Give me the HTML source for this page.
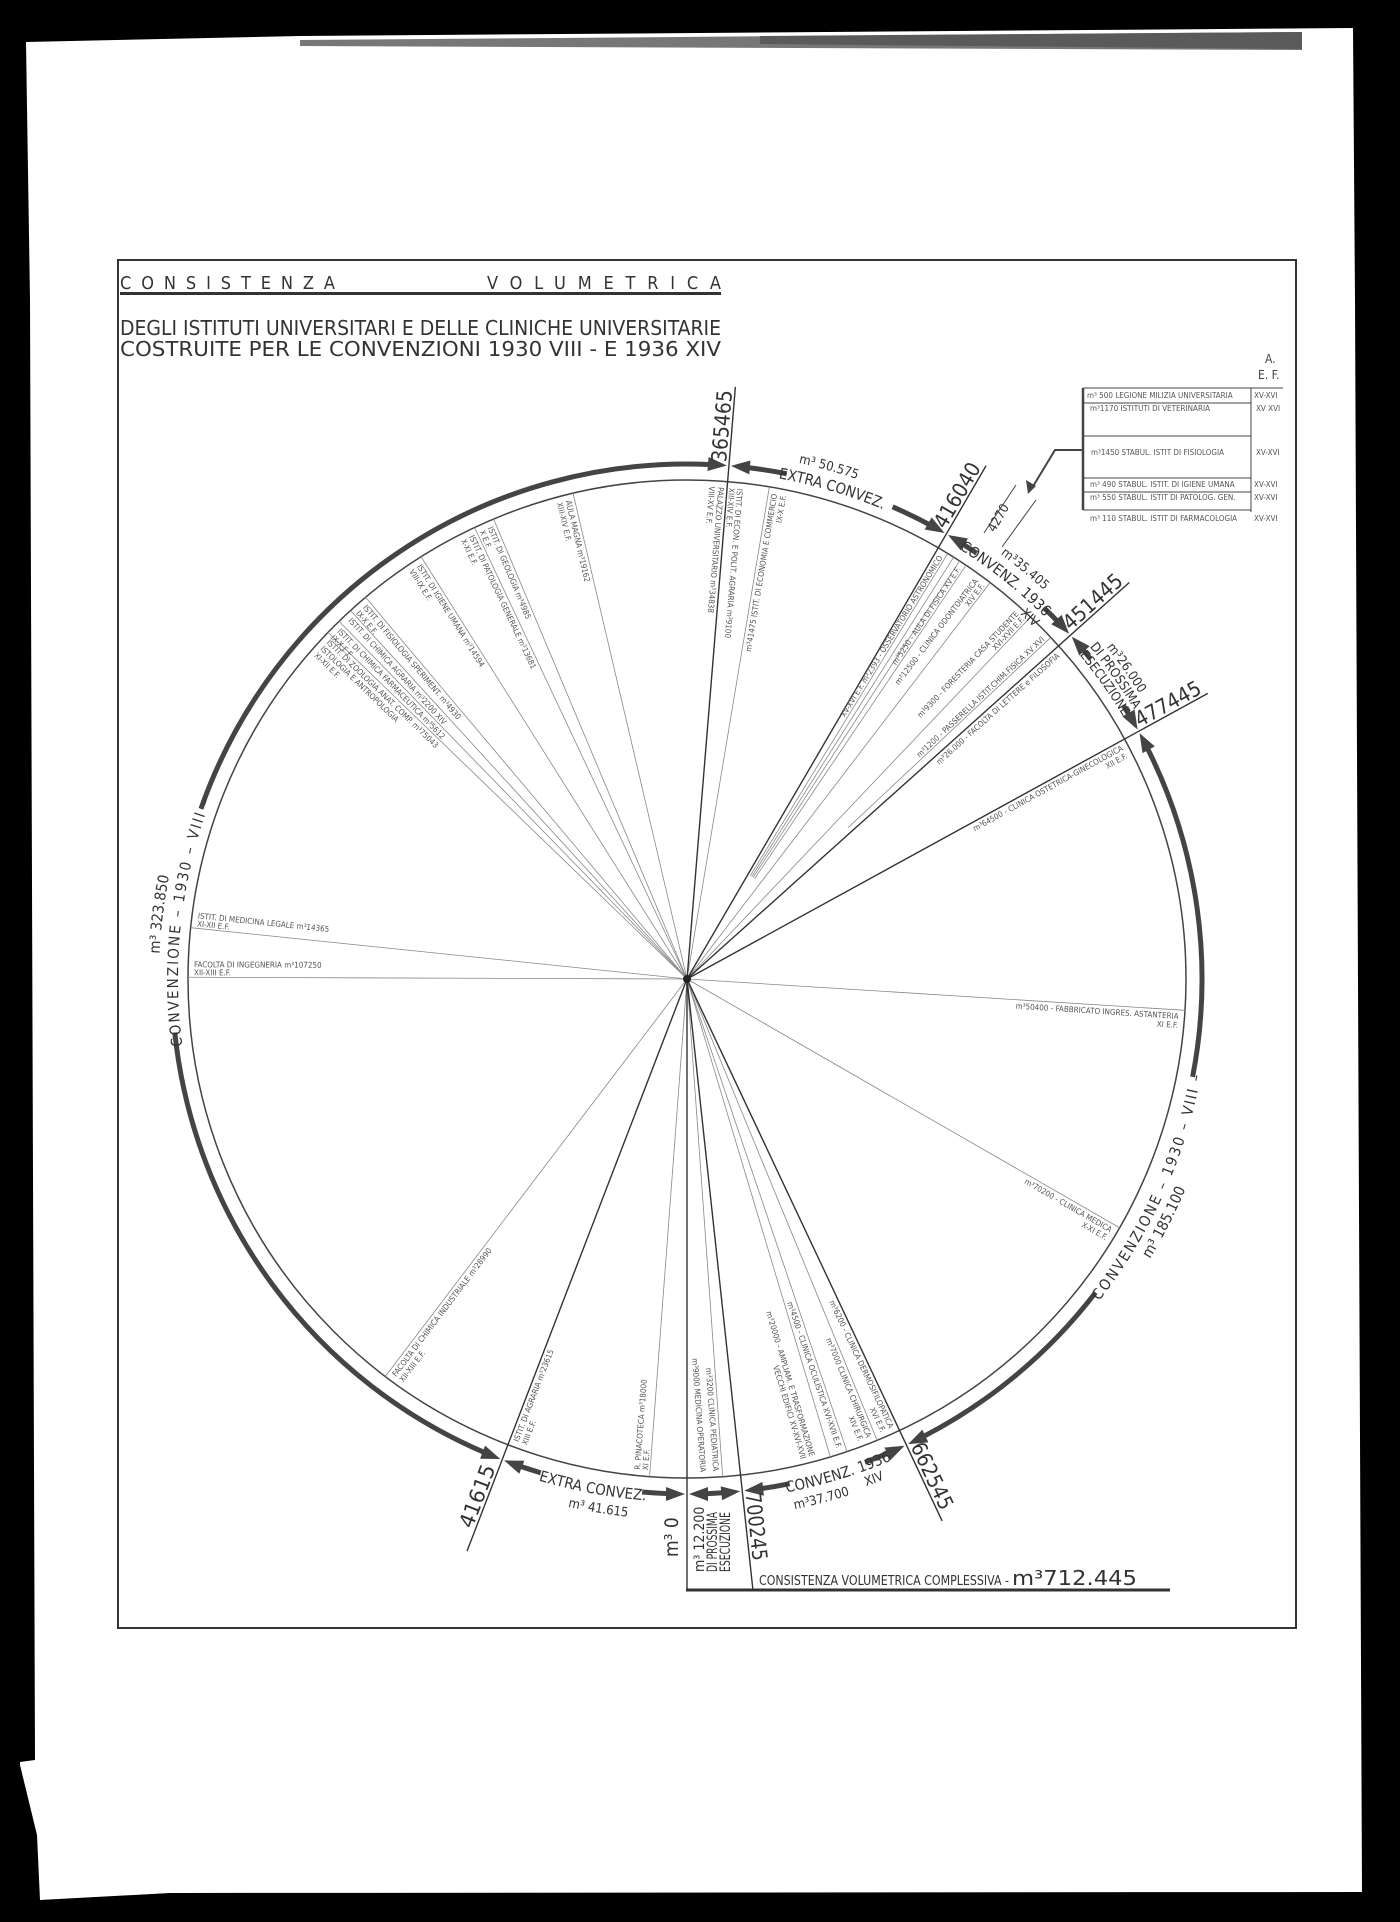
<!DOCTYPE html>
<html><head><meta charset="utf-8"><style>
html,body{margin:0;padding:0;background:#000;}
svg{display:block;}
text{font-family:"DejaVu Sans Condensed","Liberation Sans",sans-serif;}
.t{font-size:8px;fill:#555;}
.n{font-size:21px;fill:#333;}
.a{font-size:15px;fill:#333;}
.s{font-size:13px;fill:#333;}
</style></head><body>
<svg width="1400" height="1922" viewBox="0 0 1400 1922" xmlns="http://www.w3.org/2000/svg">
<defs>
<path id="cw509" d="M 1196 979 A 509 509 0 0 1 178 979"/>
<path id="cw494" d="M 1181 979 A 494 494 0 0 1 193 979"/>
<path id="cw522" d="M 1209 979 A 522 522 0 0 1 165 979"/>
<path id="cw528" d="M 1215 979 A 528 528 0 0 1 159 979"/>
<path id="cw535" d="M 1222 979 A 535 535 0 0 1 152 979"/>
<path id="ccw523" d="M 164 979 A 523 523 0 0 0 1210 979"/>
<path id="ccw538" d="M 149 979 A 538 538 0 0 0 1225 979"/>
<path id="ccw541" d="M 146 979 A 541 541 0 0 0 1228 979"/>
<polygon id="aL" points="685,1494 666,1487 666,1501" fill="#444"/>
<polygon id="aR" points="689,1494 708,1487 708,1501" fill="#444"/>
</defs>
<rect width="1400" height="1922" fill="#000"/>
<polygon points="26,42 300,36 1353,28 1355,300 1362,1892 170,1893 40,1900 37,1835 20,1765 20,1762 35,1760 30,300" fill="#fff"/>
<polygon points="300,40 1302,32 1302,50 300,46" fill="#777"/>
<polygon points="760,36 1302,32 1302,49 760,44" fill="#5a5a5a"/>

<rect x="118" y="260" width="1178" height="1368" fill="none" stroke="#333" stroke-width="2"/>
<text x="120" y="289" font-size="18" fill="#333" textLength="215" lengthAdjust="spacing">CONSISTENZA</text>
<text x="487" y="289" font-size="18" fill="#333" textLength="234" lengthAdjust="spacing">VOLUMETRICA</text>
<rect x="120" y="292" width="601" height="3" fill="#333"/>
<text x="120" y="335" font-size="20" fill="#333" textLength="601" lengthAdjust="spacingAndGlyphs">DEGLI ISTITUTI UNIVERSITARI E DELLE CLINICHE UNIVERSITARIE</text>
<text x="120" y="356" font-size="20" fill="#333" textLength="601" lengthAdjust="spacingAndGlyphs">COSTRUITE PER LE CONVENZIONI 1930 VIII -   E      1936 XIV</text>

<!-- table -->
<g stroke="#444" fill="none">
<line x1="1083" y1="388" x2="1083" y2="510" stroke-width="2.5"/>
<line x1="1083" y1="388" x2="1283" y2="388"/>
<line x1="1083" y1="403" x2="1251" y2="403"/>
<line x1="1083" y1="436" x2="1251" y2="436"/>
<line x1="1083" y1="478" x2="1251" y2="478"/>
<line x1="1083" y1="492" x2="1251" y2="492"/>
<line x1="1083" y1="510" x2="1251" y2="510"/>
<line x1="1251" y1="388" x2="1251" y2="512"/>
<polyline points="1083,450 1055,450 1032,488" stroke-width="2"/>
<line x1="984" y1="533" x2="1016" y2="485"/>
<line x1="1002" y1="547" x2="1036" y2="500"/>
</g>
<polygon points="1028,494 1026,480 1036,486" fill="#444"/>
<g class="t" font-size="7.5">
<text x="1087" y="398">m³ 500   LEGIONE MILIZIA UNIVERSITARIA</text><text x="1254" y="398">XV-XVI</text>
<text x="1090" y="411">m³1170  ISTITUTI DI VETERINARIA</text><text x="1256" y="411">XV XVI</text>
<text x="1091" y="455">m³1450  STABUL. ISTIT DI FISIOLOGIA</text><text x="1256" y="455">XV-XVI</text>
<text x="1090" y="487">m³ 490  STABUL. ISTIT. DI IGIENE UMANA</text><text x="1254" y="487">XV-XVI</text>
<text x="1090" y="500">m³ 550  STABUL. ISTIT DI PATOLOG. GEN.</text><text x="1254" y="500">XV-XVI</text>
<text x="1090" y="521">m³ 110  STABUL. ISTIT DI FARMACOLOGIA</text><text x="1254" y="521">XV-XVI</text>
</g>
<text x="1265" y="363" font-size="12" fill="#444">A.</text>
<text x="1258" y="379" font-size="12" fill="#444">E. F.</text>
<text transform="translate(1002 520) rotate(-60)" font-size="13" fill="#333" text-anchor="middle">4270</text>

<!-- circle -->
<circle cx="687" cy="979" r="499" fill="none" stroke="#444" stroke-width="1.5"/>

<!-- thin radial lines -->
<g stroke="#888" stroke-width="0.8">
<line x1="687" y1="979" x2="687" y2="1478" transform="rotate(166.8 687 979)"/>
<line x1="687" y1="979" x2="687" y2="1478" transform="rotate(157.2 687 979)"/>
<line x1="687" y1="979" x2="687" y2="1478" transform="rotate(154.8 687 979)"/>
<line x1="687" y1="979" x2="687" y2="1478" transform="rotate(147.8 687 979)"/>
<line x1="687" y1="979" x2="687" y2="1478" transform="rotate(139.9 687 979)"/>
<line x1="687" y1="979" x2="687" y2="1478" transform="rotate(137.6 687 979)"/>
<line x1="687" y1="979" x2="687" y2="1478" transform="rotate(135.8 687 979)"/>
<line x1="687" y1="979" x2="687" y2="1478" transform="rotate(134 687 979)"/>
<line x1="687" y1="979" x2="687" y2="1478" transform="rotate(95.9 687 979)"/>
<line x1="687" y1="979" x2="687" y2="1478" transform="rotate(90.2 687 979)"/>
<line x1="687" y1="979" x2="687" y2="1478" transform="rotate(37.2 687 979)"/>
<line x1="687" y1="979" x2="687" y2="1478" transform="rotate(4.3 687 979)"/>
<line x1="687" y1="979" x2="687" y2="1478" transform="rotate(355.9 687 979)"/>
<line x1="687" y1="979" x2="687" y2="1478" transform="rotate(343.3 687 979)"/>
<line x1="687" y1="979" x2="687" y2="1478" transform="rotate(341.3 687 979)"/>
<line x1="687" y1="979" x2="687" y2="1478" transform="rotate(337.6 687 979)"/>
<line x1="687" y1="979" x2="687" y2="1478" transform="rotate(299.9 687 979)"/>
<line x1="687" y1="979" x2="687" y2="1478" transform="rotate(273.6 687 979)"/>
<line x1="687" y1="979" x2="687" y2="1478" transform="rotate(189.5 687 979)"/>
<line x1="687" y1="1100" x2="687" y2="1478" transform="rotate(211.5 687 979)"/>
<line x1="687" y1="1100" x2="687" y2="1478" transform="rotate(212.3 687 979)"/>
<line x1="687" y1="1100" x2="687" y2="1478" transform="rotate(213.1 687 979)"/>
<line x1="687" y1="1100" x2="687" y2="1478" transform="rotate(214 687 979)"/>
<line x1="687" y1="979" x2="687" y2="1478" transform="rotate(217.4 687 979)"/>
<line x1="687" y1="979" x2="687" y2="1478" transform="rotate(223.5 687 979)"/>
<line x1="687" y1="1200" x2="687" y2="1478" transform="rotate(226.8 687 979)"/>
</g>

<!-- boundary lines -->
<g stroke="#333" stroke-width="1.4">
<line x1="687" y1="979" x2="687" y2="1590"/>
<line x1="687" y1="979" x2="687" y2="1592" transform="rotate(21.03 687 979)"/>
<line x1="687" y1="979" x2="687" y2="1573" transform="rotate(184.67 687 979)"/>
<line x1="687" y1="979" x2="687" y2="1573" transform="rotate(210.23 687 979)"/>
<line x1="687" y1="979" x2="687" y2="1573" transform="rotate(228.12 687 979)"/>
<line x1="687" y1="979" x2="687" y2="1573" transform="rotate(241.26 687 979)"/>
<line x1="687" y1="979" x2="687" y2="1578" transform="rotate(334.79 687 979)"/>
<line x1="687" y1="979" x2="687" y2="1592" transform="rotate(353.84 687 979)"/>
</g>
<line x1="686" y1="1590" x2="1170" y2="1590" stroke="#333" stroke-width="3"/>
<circle cx="687" cy="979" r="4" fill="#222"/>

<!-- thick arcs -->
<g fill="none" stroke="#444" stroke-width="5">
<circle cx="687" cy="979" r="515" pathLength="360" stroke-dasharray="3 400" transform="rotate(92 687 979)"/>
<circle cx="687" cy="979" r="515" pathLength="360" stroke-dasharray="2.6 400" transform="rotate(106.5 687 979)"/>
<circle cx="687" cy="979" r="515" pathLength="360" stroke-dasharray="61 400" transform="rotate(113.03 687 979)"/>
<circle cx="687" cy="979" r="515" pathLength="360" stroke-dasharray="73.4 400" transform="rotate(199.3 687 979)"/>
<circle cx="687" cy="979" r="515" pathLength="360" stroke-dasharray="4.5 400" transform="rotate(276.67 687 979)"/>
<circle cx="687" cy="979" r="515" pathLength="360" stroke-dasharray="4.7 400" transform="rotate(293.53 687 979)"/>
<circle cx="687" cy="979" r="515" pathLength="360" stroke-dasharray="2 400" transform="rotate(302.23 687 979)"/>
<circle cx="687" cy="979" r="515" pathLength="360" stroke-dasharray="2.1 400" transform="rotate(314 687 979)"/>
<circle cx="687" cy="979" r="515" pathLength="360" stroke-dasharray="1.5 400" transform="rotate(320.12 687 979)"/>
<circle cx="687" cy="979" r="515" pathLength="360" stroke-dasharray="1.3 400" transform="rotate(327.96 687 979)"/>
<circle cx="687" cy="979" r="515" pathLength="360" stroke-dasharray="37.7 400" transform="rotate(333.26 687 979)"/>
<circle cx="687" cy="979" r="515" pathLength="360" stroke-dasharray="25.3 400" transform="rotate(37.5 687 979)"/>
<circle cx="687" cy="979" r="515" pathLength="360" stroke-dasharray="3 400" transform="rotate(66.79 687 979)"/>
<circle cx="687" cy="979" r="515" pathLength="360" stroke-dasharray="3.3 400" transform="rotate(78.5 687 979)"/>
<circle cx="687" cy="979" r="515" pathLength="360" stroke-dasharray="2.2 400" transform="rotate(85.84 687 979)"/>
</g>
<!-- arrowheads -->
<g><use href="#aL"/><use href="#aR"/></g>
<g transform="rotate(21.03 687 979)"><use href="#aL"/><use href="#aR"/></g>
<g transform="rotate(184.67 687 979)"><use href="#aL"/><use href="#aR"/></g>
<g transform="rotate(210.23 687 979)"><use href="#aL"/><use href="#aR"/></g>
<g transform="rotate(228.12 687 979)"><use href="#aL"/><use href="#aR"/></g>
<g transform="rotate(241.26 687 979)"><use href="#aL"/><use href="#aR"/></g>
<g transform="rotate(334.79 687 979)"><use href="#aL"/><use href="#aR"/></g>
<g transform="rotate(353.84 687 979)"><use href="#aL"/><use href="#aR"/></g>

<!-- boundary numbers -->
<g class="n">
<g transform="rotate(184.67 687 979)"><text transform="translate(687 1497) rotate(90)" y="-3" textLength="72" lengthAdjust="spacingAndGlyphs">365465</text></g>
<g transform="rotate(210.23 687 979)"><text transform="translate(687 1497) rotate(90)" y="-3" textLength="72" lengthAdjust="spacingAndGlyphs">416040</text></g>
<g transform="rotate(228.12 687 979)"><text transform="translate(687 1497) rotate(90)" y="-3" textLength="72" lengthAdjust="spacingAndGlyphs">451445</text></g>
<g transform="rotate(241.26 687 979)"><text transform="translate(687 1497) rotate(90)" y="-3" textLength="72" lengthAdjust="spacingAndGlyphs">477445</text></g>
<g transform="rotate(334.79 687 979)"><text transform="translate(687 1497) rotate(90)" y="-3" textLength="72" lengthAdjust="spacingAndGlyphs">662545</text></g>
<g transform="rotate(353.84 687 979)"><text transform="translate(687 1497) rotate(90)" y="-3" textLength="68" lengthAdjust="spacingAndGlyphs">700245</text></g>
<g transform="rotate(21.03 687 979)"><text transform="translate(687 1570) rotate(-90)" y="-3" textLength="66" lengthAdjust="spacingAndGlyphs">41615</text></g>
</g>
<text transform="translate(678 1557) rotate(-90)" font-size="19" fill="#333">m³  0</text>
<g transform="translate(712 1572) rotate(-90)" font-size="14" fill="#333">
<text x="0" y="-8">m³ 12.200</text>
<text x="0" y="5" textLength="60" lengthAdjust="spacingAndGlyphs">DI PROSSIMA</text>
<text x="0" y="18" textLength="60" lengthAdjust="spacingAndGlyphs">ESECUZIONE</text>
</g>
<text x="759" y="1585" font-size="13" fill="#333" textLength="250" lengthAdjust="spacingAndGlyphs">CONSISTENZA VOLUMETRICA COMPLESSIVA -</text>
<text x="1012" y="1585" font-size="20" fill="#333" textLength="125" lengthAdjust="spacingAndGlyphs">m³712.445</text>

<!-- arc labels -->
<g transform="rotate(10.5 687 979)"><text class="a"><textPath href="#ccw523" startOffset="50%" text-anchor="middle">EXTRA CONVEZ.</textPath></text></g>
<g transform="rotate(9.5 687 979)"><text class="s"><textPath href="#ccw541" startOffset="50%" text-anchor="middle">m³ 41.615</textPath></text></g>
<g transform="rotate(96.6 687 979)"><text class="a" letter-spacing="2"><textPath href="#cw509" startOffset="50%" text-anchor="middle">CONVENZIONE – 1930 – VIII –</textPath></text></g>
<g transform="rotate(97 687 979)"><text class="a"><textPath href="#cw528" startOffset="50%" text-anchor="middle">m³ 323.850</textPath></text></g>
<g transform="rotate(196.5 687 979)"><text class="a"><textPath href="#cw509" startOffset="50%" text-anchor="middle">EXTRA CONVEZ.</textPath></text></g>
<g transform="rotate(195.5 687 979)"><text class="s"><textPath href="#cw528" startOffset="50%" text-anchor="middle">m³ 50.575</textPath></text></g>
<g transform="rotate(218.5 687 979)"><text class="a"><textPath href="#cw509" startOffset="50%" text-anchor="middle">CONVENZ.  1936</textPath></text></g>
<g transform="rotate(223.5 687 979)"><text class="s"><textPath href="#cw494" startOffset="50%" text-anchor="middle">XIV</textPath></text></g>
<g transform="rotate(219.5 687 979)"><text class="s"><textPath href="#cw528" startOffset="50%" text-anchor="middle">m³35.405</textPath></text></g>
<g transform="rotate(234.7 687 979)"><text class="s"><textPath href="#cw509" startOffset="50%" text-anchor="middle">ESECUZIONE</textPath></text></g>
<g transform="rotate(234.7 687 979)"><text class="s"><textPath href="#cw522" startOffset="50%" text-anchor="middle">DI PROSSIMA</textPath></text></g>
<g transform="rotate(234.7 687 979)"><text class="s"><textPath href="#cw535" startOffset="50%" text-anchor="middle">m³26.000</textPath></text></g>
<g transform="rotate(294.2 687 979)"><text class="a" letter-spacing="2"><textPath href="#ccw523" startOffset="50%" text-anchor="middle">CONVENZIONE – 1930 – VIII –</textPath></text></g>
<g transform="rotate(297 687 979)"><text class="a"><textPath href="#ccw541" startOffset="50%" text-anchor="middle">m³ 185.100</textPath></text></g>
<g transform="rotate(343 687 979)"><text class="a"><textPath href="#ccw523" startOffset="50%" text-anchor="middle">CONVENZ. 1936</textPath></text></g>
<g transform="rotate(339.5 687 979)"><text class="s"><textPath href="#ccw538" startOffset="50%" text-anchor="middle">XIV</textPath></text></g>
<g transform="rotate(345.5 687 979)"><text class="s"><textPath href="#ccw541" startOffset="50%" text-anchor="middle">m³37.700</textPath></text></g>

<!-- inner labels (inward reading) -->
<g class="t">
<g transform="rotate(166.8 687 979)"><text transform="translate(687 1472) rotate(-90)"><tspan x="0" y="9">AULA  MAGNA  m³19162</tspan><tspan x="0" y="18">XIII-XIV E.F.</tspan></text></g>
<g transform="rotate(157.2 687 979)"><text transform="translate(687 1472) rotate(-90)"><tspan x="0" y="9">ISTIT. DI GEOLOGIA  m³4985</tspan><tspan x="0" y="18">X E.F.</tspan></text></g>
<g transform="rotate(154.8 687 979)"><text transform="translate(687 1472) rotate(-90)"><tspan x="0" y="9">ISTIT. DI PATOLOGIA GENERALE  m³13681</tspan><tspan x="0" y="18">X-XI E.F.</tspan></text></g>
<g transform="rotate(147.8 687 979)"><text transform="translate(687 1472) rotate(-90)"><tspan x="0" y="9">ISTIT. DI IGIENE UMANA  m³14594</tspan><tspan x="0" y="18">VIII-IX E.F.</tspan></text></g>
<g transform="rotate(139.9 687 979)"><text transform="translate(687 1472) rotate(-90)"><tspan x="0" y="9">ISTIT. DI FISIOLOGIA SPERIMENT.  m³4930</tspan><tspan x="0" y="18">IX-X E.F.</tspan></text></g>
<g transform="rotate(137.6 687 979)"><text transform="translate(687 1472) rotate(-90)"><tspan x="0" y="9">ISTIT. DI CHIMICA AGRARIA m³2200 XIV</tspan></text></g>
<g transform="rotate(135.8 687 979)"><text transform="translate(687 1472) rotate(-90)"><tspan x="0" y="9">ISTIT. DI CHIMICA FARMACEUTICA  m³5612</tspan><tspan x="0" y="18">IX-X E.F.</tspan></text></g>
<g transform="rotate(134 687 979)"><text transform="translate(687 1472) rotate(-90)"><tspan x="0" y="9">ISTIT. DI ZOOLOGIA ANAT. COMP.    m³75043</tspan><tspan x="0" y="18">ISTOLOGIA E ANTROPOLOGIA</tspan><tspan x="0" y="27">XI-XII E.F.</tspan></text></g>
<g transform="rotate(95.9 687 979)"><text transform="translate(687 1472) rotate(-90)"><tspan x="0" y="-10">ISTIT. DI MEDICINA LEGALE   m³14365</tspan><tspan x="0" y="-2">XI-XII E.F.</tspan></text></g>
<g transform="rotate(90.2 687 979)"><text transform="translate(687 1472) rotate(-90)"><tspan x="0" y="-10">FACOLTA DI INGEGNERIA    m³107250</tspan><tspan x="0" y="-2">XII-XIII E.F.</tspan></text></g>
<g transform="rotate(37.2 687 979)"><text transform="translate(687 1472) rotate(-90)"><tspan x="0" y="9">FACOLTA DI CHIMICA INDUSTRIALE  m³28990</tspan><tspan x="0" y="18">XII-XIII E.F.</tspan></text></g>
<g transform="rotate(21.03 687 979)"><text transform="translate(687 1472) rotate(-90)"><tspan x="0" y="9">ISTIT. DI AGRARIA  m³23615</tspan><tspan x="0" y="18">XIII E.F.</tspan></text></g>
<g transform="rotate(4.3 687 979)"><text transform="translate(687 1472) rotate(-90)"><tspan x="0" y="-10">R. PINACOTECA    m³18000</tspan><tspan x="0" y="-2">XI E.F.</tspan></text></g>
<g transform="rotate(184.67 687 979)"><text transform="translate(687 1472) rotate(-90)"><tspan x="0" y="9">PALAZZO UNIVERSITARIO   m³34838</tspan><tspan x="0" y="18">VIII-XV E.F.</tspan></text></g>
<g transform="rotate(184.67 687 979)"><text transform="translate(687 1472) rotate(-90)"><tspan x="0" y="-10">ISTIT. DI ECON. E POLIT. AGRARIA  m³9100</tspan><tspan x="0" y="-2">XIII-XIV E.F.</tspan></text></g>
</g>
<!-- inner labels (outward reading) -->
<g class="t" text-anchor="end">
<g transform="rotate(189.5 687 979)"><text transform="translate(687 1472) rotate(90)"><tspan x="0" y="9">m³41475  ISTIT. DI ECONOMIA E COMMERCIO</tspan><tspan x="0" y="18">IX-X E.F.</tspan></text></g>
<g transform="rotate(211.5 687 979)"><text transform="translate(687 1472) rotate(90)"><tspan x="0" y="-2">XV-XVI E.F. m³2393 - OSSERVATORIO ASTRONOMICO</tspan></text></g>
<g transform="rotate(214 687 979)"><text transform="translate(687 1472) rotate(90)"><tspan x="0" y="-2">m³5250 - AULA DI FISICA  XV E.F.</tspan></text></g>
<g transform="rotate(217.4 687 979)"><text transform="translate(687 1472) rotate(90)"><tspan x="0" y="-10">m³12500 - CLINICA ODONTOIATRICA</tspan><tspan x="0" y="-2">XIV E.F.</tspan></text></g>
<g transform="rotate(223.5 687 979)"><text transform="translate(687 1472) rotate(90)"><tspan x="0" y="-10">m³9300 - FORESTERIA CASA STUDENTE</tspan><tspan x="0" y="-2">XVI-XVII E.F.</tspan></text></g>
<g transform="rotate(226.8 687 979)"><text transform="translate(687 1472) rotate(90)"><tspan x="0" y="-2">m³1200 - PASSERELLA ISTIT.CHIM.FISICA XV XVI</tspan></text></g>
<g transform="rotate(228.12 687 979)"><text transform="translate(687 1472) rotate(90)"><tspan x="0" y="9">m³26.000 - FACOLTA DI LETTERE e FILOSOFIA</tspan></text></g>
<g transform="rotate(241.26 687 979)"><text transform="translate(687 1472) rotate(90)"><tspan x="0" y="9">m³64500 - CLINICA OSTETRICA-GINECOLOGICA</tspan><tspan x="0" y="18">XII E.F.</tspan></text></g>
<g transform="rotate(273.6 687 979)"><text transform="translate(687 1472) rotate(90)"><tspan x="0" y="9">m³50400 - FABBRICATO INGRES. ASTANTERIA</tspan><tspan x="0" y="18">XI E.F.</tspan></text></g>
<g transform="rotate(299.9 687 979)"><text transform="translate(687 1472) rotate(90)"><tspan x="0" y="9">m³70200 - CLINICA  MEDICA</tspan><tspan x="0" y="18">X-XI E.F.</tspan></text></g>
<g transform="rotate(334.79 687 979)"><text transform="translate(687 1472) rotate(90)"><tspan x="0" y="9">m³6200 - CLINICA DERMOSIFILOPATICA</tspan><tspan x="0" y="18">XVI E.F.</tspan></text></g>
<g transform="rotate(337.6 687 979)"><text transform="translate(687 1472) rotate(90)"><tspan x="0" y="9">m³7000  CLINICA CHIRURGICA</tspan><tspan x="0" y="18">XIV E.F.</tspan></text></g>
<g transform="rotate(341.3 687 979)"><text transform="translate(687 1472) rotate(90)"><tspan x="0" y="9">m³4500 - CLINICA OCULISTICA XVI-XVII E.F.</tspan></text></g>
<g transform="rotate(343.3 687 979)"><text transform="translate(687 1472) rotate(90)"><tspan x="0" y="20">m³20000 - AMPLIAM. E TRASFORMAZIONE</tspan><tspan x="0" y="29">VECCHI EDIFICI XV-XVI-XVII</tspan></text></g>
<g transform="rotate(355.9 687 979)"><text transform="translate(687 1472) rotate(90)"><tspan x="0" y="9">m³3200  CLINICA PEDIATRICA</tspan><tspan x="0" y="22">m³9000  MEDICINA OPERATORIA</tspan></text></g>
</g>
</svg>
</body></html>
